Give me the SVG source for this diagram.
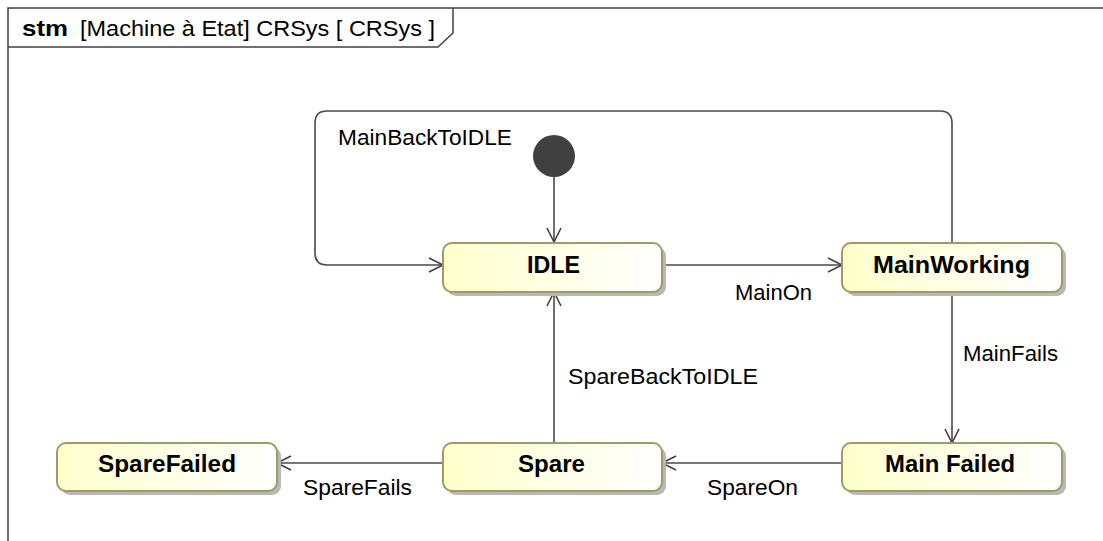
<svg xmlns="http://www.w3.org/2000/svg" width="1103" height="541" viewBox="0 0 1103 541">
<defs>
<linearGradient id="g" x1="0" y1="0" x2="1" y2="0">
<stop offset="0" stop-color="#FFFFCC"/>
<stop offset="1" stop-color="#FFFFFF"/>
</linearGradient>
<marker id="arr" markerWidth="18" markerHeight="18" refX="15" refY="8" orient="auto" markerUnits="userSpaceOnUse">
<path d="M1,1 L15,8 L1,15" fill="none" stroke="#404040" stroke-width="1.6"/>
</marker>
</defs>
<style>
.st{fill:url(#g);stroke:#9C9C64;stroke-width:2}
.sh{fill:#B8B8B8}
.nl{font-family:"Liberation Sans",Arial,sans-serif;font-size:23px;font-weight:bold;fill:#000}
.lb{font-family:"Liberation Sans",Arial,sans-serif;font-size:22px;fill:#000}
.cn{fill:none;stroke:#4A4A4A;stroke-width:1.6}
</style>
<rect width="1103" height="541" fill="#fff"/>
<g id="frame">
<path d="M8,541 L8,8 L1103,8" fill="none" stroke="#404040" stroke-width="1.5"/>
<path d="M8,47 L438,47 L453,33 L453,8" fill="none" stroke="#404040" stroke-width="1.5"/>
<text class="lb" x="22" y="36" font-weight="bold" textLength="46" lengthAdjust="spacingAndGlyphs">stm</text>
<text class="lb" x="80" y="36" textLength="355" lengthAdjust="spacingAndGlyphs">[Machine à Etat] CRSys [ CRSys  ]</text>
</g>
<g id="connectors">
<path class="cn" d="M554,176 L554,242" marker-end="url(#arr)"/>
<path class="cn" d="M952,243 L952,123 Q952,111 940,111 L327,111 Q315,111 315,123 L315,253 Q315,265 327,265 L443,265" marker-end="url(#arr)"/>
<path class="cn" d="M662,265 L842,265" marker-end="url(#arr)"/>
<path class="cn" d="M952,292 L952,443" marker-end="url(#arr)"/>
<path class="cn" d="M842,463 L662,463" marker-end="url(#arr)"/>
<path class="cn" d="M554,443 L554,292" marker-end="url(#arr)"/>
<path class="cn" d="M443,463 L277,463" marker-end="url(#arr)"/>
<text class="lb" x="338" y="145" textLength="174" lengthAdjust="spacingAndGlyphs">MainBackToIDLE</text>
<text class="lb" x="735" y="300" textLength="77" lengthAdjust="spacingAndGlyphs">MainOn</text>
<text class="lb" x="963" y="361" textLength="95" lengthAdjust="spacingAndGlyphs">MainFails</text>
<text class="lb" x="568" y="384" textLength="190" lengthAdjust="spacingAndGlyphs">SpareBackToIDLE</text>
<text class="lb" x="707" y="495" textLength="91" lengthAdjust="spacingAndGlyphs">SpareOn</text>
<text class="lb" x="303" y="495" textLength="109" lengthAdjust="spacingAndGlyphs">SpareFails</text>
</g>
<g id="initial">
<circle cx="554" cy="156" r="21" fill="#404040"/>
</g>
<g id="IDLE">
<rect class="sh" x="447" y="247" width="219" height="49" rx="9"/>
<rect class="st" x="443" y="243" width="219" height="49" rx="9"/>
<text class="nl" x="527" y="273" textLength="53" lengthAdjust="spacingAndGlyphs">IDLE</text>
</g>
<g id="MainWorking">
<rect class="sh" x="846" y="247" width="220" height="49" rx="9"/>
<rect class="st" x="842" y="243" width="220" height="49" rx="9"/>
<text class="nl" x="873" y="273" textLength="157" lengthAdjust="spacingAndGlyphs">MainWorking</text>
</g>
<g id="SpareFailed">
<rect class="sh" x="61" y="447" width="220" height="48" rx="9"/>
<rect class="st" x="57" y="443" width="220" height="48" rx="9"/>
<text class="nl" x="98" y="472" textLength="138" lengthAdjust="spacingAndGlyphs">SpareFailed</text>
</g>
<g id="Spare">
<rect class="sh" x="447" y="447" width="219" height="48" rx="9"/>
<rect class="st" x="443" y="443" width="219" height="48" rx="9"/>
<text class="nl" x="518" y="472" textLength="67" lengthAdjust="spacingAndGlyphs">Spare</text>
</g>
<g id="MainFailed">
<rect class="sh" x="846" y="447" width="220" height="48" rx="9"/>
<rect class="st" x="842" y="443" width="220" height="48" rx="9"/>
<text class="nl" x="885" y="472" textLength="130" lengthAdjust="spacingAndGlyphs">Main Failed</text>
</g>
</svg>
